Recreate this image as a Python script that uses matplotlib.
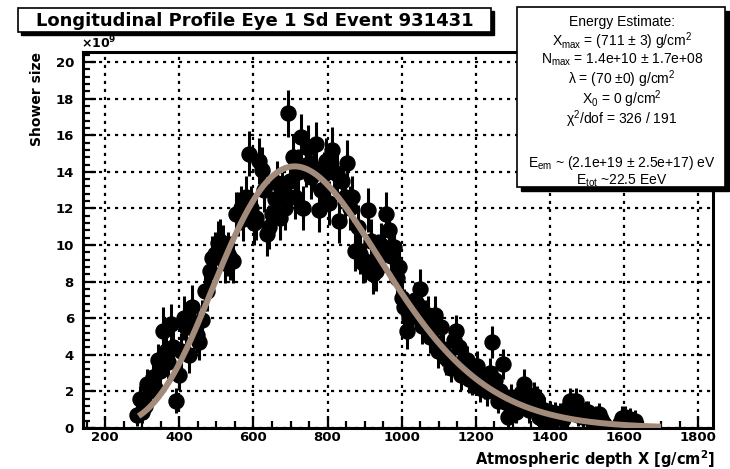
import numpy as np
import matplotlib
matplotlib.use("Agg")
import matplotlib.pyplot as plt
from matplotlib.patches import Rectangle
from matplotlib.ticker import MultipleLocator

plt.rcParams['font.family'] = ['Liberation Sans', 'DejaVu Sans']
plt.rcParams['mathtext.default'] = 'regular'

# Measured longitudinal profile (depth in g/cm^2, size in units of 1e9)
depth = [
    286, 293, 300, 307, 314, 321, 328, 335, 342, 349,
    356, 363, 370, 377, 384, 391, 398, 405, 412, 419,
    426, 433, 440, 447, 454, 461, 468, 475, 482, 489,
    496, 503, 510, 517, 524, 531, 538, 545, 552, 559,
    566, 573, 580, 587, 594, 601, 608, 615, 622, 629,
    636, 643, 650, 657, 664, 671, 678, 685, 692, 699,
    706, 713, 720, 727, 734, 741, 748, 755, 762, 769,
    776, 783, 790, 797, 804, 811, 818, 825, 832, 839,
    846, 853, 860, 867, 874, 881, 888, 895, 902, 909,
    916, 923, 930, 937, 944, 951, 958, 965, 972, 979,
    986, 993, 1000, 1007, 1014, 1021, 1028, 1035, 1042, 1049,
    1056, 1063, 1070, 1077, 1084, 1091, 1098, 1105, 1112, 1119,
    1126, 1133, 1140, 1147, 1154, 1161, 1168, 1175, 1182, 1189,
    1196, 1203, 1210, 1217, 1224, 1231, 1238, 1245, 1252, 1259,
    1266, 1273, 1280, 1287, 1294, 1301, 1308, 1315, 1322, 1329,
    1336, 1343, 1350, 1357, 1364, 1371, 1378, 1385, 1392, 1399,
    1406, 1413, 1420, 1427, 1434, 1441, 1448, 1455, 1462, 1469,
    1476, 1483, 1490, 1497, 1504, 1511, 1518, 1525, 1532, 1539,
    1546, 1553, 1560, 1567, 1574, 1581, 1588, 1595, 1602, 1609,
    1616, 1623, 1630,
]
size = [
    0.7, 1.6, 0.9, 1.2, 2.4, 2.0, 2.8, 2.2, 3.7, 3.1,
    5.3, 4.2, 3.6, 5.7, 4.4, 1.5, 2.9, 4.2, 6.0, 5.5,
    4.0, 6.6, 5.4, 5.1, 4.7, 5.9, 7.5, 7.5, 8.6, 9.3,
    9.5, 10.1, 10.2, 9.9, 9.0, 9.5, 9.3, 9.1, 11.7, 11.7,
    12.0, 11.4, 12.6, 15.0, 12.0, 11.2, 11.5, 14.6, 14.1, 13.0,
    10.6, 11.0, 11.7, 12.5, 13.4, 11.5, 12.8, 12.0, 17.2, 13.5,
    14.8, 12.6, 14.0, 15.9, 12.0, 14.4, 15.3, 13.7, 14.2, 15.5,
    11.9, 13.0, 13.9, 14.6, 12.3, 15.2, 14.0, 13.9, 11.3, 13.5,
    12.6, 14.5, 12.0, 12.6, 9.7, 11.0, 9.5, 9.0, 9.1, 11.9,
    10.2, 8.4, 8.6, 9.5, 10.0, 9.6, 11.7, 10.8, 9.4, 9.9,
    8.2, 8.8, 7.1, 6.6, 5.3, 6.0, 6.4, 7.0, 6.8, 7.6,
    5.6, 6.0, 6.2, 5.0, 5.4, 6.2, 4.2, 5.5, 4.3, 3.8,
    3.9, 3.3, 4.8, 5.3, 4.4, 2.9, 3.7, 3.7, 2.7, 2.6,
    3.0, 3.4, 2.2, 2.8, 2.4, 2.0, 3.0, 4.7, 2.6, 1.5,
    2.0, 3.5, 1.4, 0.6, 1.7, 1.2, 0.9, 1.5, 1.9, 2.4,
    1.5, 1.0, 1.3, 1.8, 1.6, 0.6, 0.5, 1.0, 0.7, 0.9,
    0.4, 0.8, 0.6, 0.75, 0.5, 0.9, 1.1, 1.5, 1.2, 1.5,
    0.7, 1.0, 0.6, 0.9, 0.9, 0.5, 0.4, 0.6, 0.75, 0.5,
    0.2, -0.3, -0.5, -0.2, -0.4, 0.0, 0.3, 0.56, 0.6, 0.4,
    0.5, 0.3, 0.4,
]
size_err = [
    0.6, 0.7, 0.6, 0.7, 0.8, 0.8, 0.8, 0.8, 0.9, 0.9,
    1.3, 1.0, 0.9, 1.1, 1.0, 0.7, 0.8, 1.0, 1.2, 1.1,
    1.0, 1.2, 1.1, 1.0, 1.0, 1.1, 1.1, 1.1, 1.2, 1.2,
    1.2, 1.2, 1.2, 1.2, 1.1, 1.2, 1.2, 1.2, 1.2, 1.2,
    1.2, 1.2, 1.2, 1.25, 1.2, 1.2, 1.2, 1.25, 1.25, 1.2,
    1.2, 1.2, 1.2, 1.2, 1.2, 1.2, 1.2, 1.2, 1.3, 1.2,
    1.25, 1.2, 1.25, 1.25, 1.2, 1.25, 1.25, 1.2, 1.25, 1.25,
    1.2, 1.2, 1.2, 1.25, 1.2, 1.25, 1.2, 1.2, 1.2, 1.2,
    1.2, 1.25, 1.2, 1.2, 1.1, 1.2, 1.1, 1.1, 1.1, 1.2,
    1.2, 1.1, 1.1, 1.1, 1.2, 1.1, 1.2, 1.2, 1.1, 1.1,
    1.1, 1.1, 1.0, 1.0, 1.0, 1.0, 1.0, 1.0, 1.0, 1.1,
    1.0, 1.0, 1.0, 0.9, 0.9, 1.0, 0.9, 0.9, 0.9, 0.9,
    0.9, 0.8, 0.9, 0.9, 0.9, 0.8, 0.8, 0.8, 0.8, 0.8,
    0.8, 0.8, 0.8, 0.8, 0.8, 0.8, 0.8, 0.9, 0.8, 0.7,
    0.8, 0.8, 0.7, 0.6, 0.7, 0.7, 0.6, 0.7, 0.7, 0.8,
    0.7, 0.7, 0.7, 0.7, 0.7, 0.6, 0.6, 0.7, 0.6, 0.6,
    0.6, 0.6, 0.6, 0.6, 0.6, 0.6, 0.7, 0.7, 0.7, 0.7,
    0.6, 0.7, 0.6, 0.6, 0.6, 0.6, 0.6, 0.6, 0.6, 0.6,
    0.6, 0.6, 0.6, 0.6, 0.6, 0.6, 0.6, 0.65, 0.6, 0.6,
    0.6, 0.6, 0.6,
]

# Gaisser-Hillas fit parameters
x_max = 711.0      # g/cm^2
n_max = 1.43e10
lam = 70.0         # g/cm^2
x_0 = 0.0          # g/cm^2
fit_range = (290.0, 1700.0)

stats_lines = [
    "Energy Estimate:",
    r"X$_{max}$ = (711 ± 3) g/cm$^{2}$",
    r"N$_{max}$ = 1.4e+10 ± 1.7e+08",
    r"λ = (70 ±0) g/cm$^{2}$",
    r"X$_{0}$ = 0 g/cm$^{2}$",
    r"χ$^{2}$/dof = 326 / 191",
    "",
    r"E$_{em}$ ~ (2.1e+19 ± 2.5e+17) eV",
    r"E$_{tot}$ ~22.5 EeV",
]

W, H = 730, 469
fig = plt.figure(figsize=(W / 100, H / 100), dpi=100)


def fx(px):
    return px / W


def fy(py):
    return 1 - py / H


BOLD = dict(family=['DejaVu Sans'], fontweight='bold')

ax = fig.add_axes([fx(83), fy(428), fx(713) - fx(83), fy(52) - fy(428)])

ax.errorbar(depth, size, yerr=size_err, fmt='o', color='black', ms=10.8,
            elinewidth=2.2, capsize=0, zorder=3)

xf = np.linspace(fit_range[0], fit_range[1], 400)
gh = n_max * ((xf - x_0) / (x_max - x_0)) ** ((x_max - x_0) / lam) * np.exp((x_max - xf) / lam)
ax.plot(xf, gh / 1e9, color='#a38b7c', lw=4.3, zorder=4, solid_capstyle='butt')

ax.set_xlim(140, 1840)
ax.set_ylim(0, 20.55)
ax.xaxis.set_major_locator(MultipleLocator(200))
ax.xaxis.set_minor_locator(MultipleLocator(50))
ax.yaxis.set_major_locator(MultipleLocator(2))
ax.yaxis.set_minor_locator(MultipleLocator(0.4))
ax.tick_params(which='both', direction='in', top=False, right=False, width=1.6)
ax.tick_params(which='major', length=9)
ax.tick_params(which='minor', length=5)
ax.tick_params(axis='x', pad=2.5)
ax.tick_params(axis='y', pad=6.5)
for lab in ax.get_xticklabels() + ax.get_yticklabels():
    lab.set_family(['DejaVu Sans'])
    lab.set_fontweight('bold')
    lab.set_fontsize(9.5)
for sp in ax.spines.values():
    sp.set_linewidth(2.2)

ax.set_axisbelow(True)
ax.grid(True, which='major', color='black', linestyle=(0, (1.4, 2.2)), linewidth=1.6)

# axis titles and exponent
fig.text(fx(715), fy(459), r"Atmospheric depth X [g/cm$^{2}$]", ha='right', va='center',
         fontsize=10.5, **BOLD)
fig.text(fx(37), fy(99), "Shower size", rotation=90, ha='center', va='center',
         fontsize=10, **BOLD)
fig.text(fx(81), fy(48), r"×10$^{9}$", ha='left', va='baseline', fontsize=9, **BOLD)


def boxed(x0, y0, x1, y1, shadow=3):
    fig.add_artist(Rectangle((fx(x0 + shadow), fy(y1 + shadow)), fx(x1) - fx(x0),
                             fy(y0) - fy(y1), transform=fig.transFigure,
                             facecolor='black', edgecolor='black', zorder=5))
    fig.add_artist(Rectangle((fx(x0), fy(y1)), fx(x1) - fx(x0), fy(y0) - fy(y1),
                             transform=fig.transFigure, facecolor='white',
                             edgecolor='black', lw=1.2, zorder=6))


# title
boxed(18, 8, 491, 32)
fig.text(fx(255), fy(20.5), "Longitudinal Profile Eye 1 Sd Event 931431", ha='center',
         va='center', fontsize=13, zorder=7, **BOLD)

# fit summary
boxed(517, 7, 725, 187, shadow=4)
line_y = [22, 41, 60, 79, 99, 119, 137, 163, 181]
for txt, yy in zip(stats_lines, line_y):
    if txt:
        fig.text(fx(622), fy(yy), txt, ha='center', va='center', fontsize=10, zorder=7)

fig.savefig("out.png", dpi=100)
